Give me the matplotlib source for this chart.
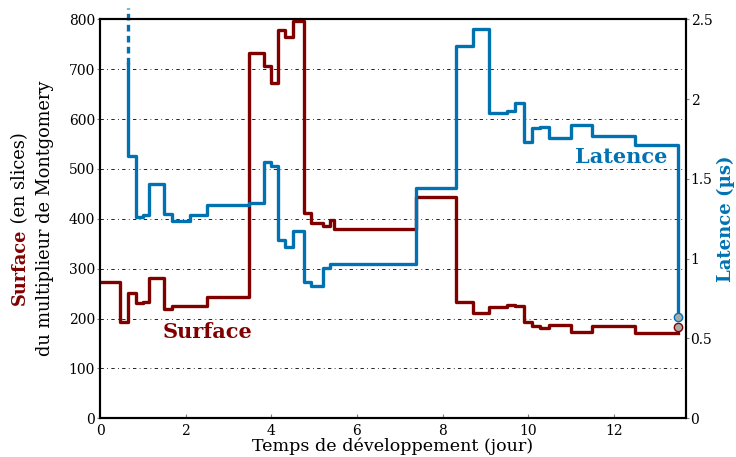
import matplotlib
matplotlib.use('Agg')
import matplotlib.pyplot as plt
from matplotlib.ticker import FuncFormatter

plt.rcParams['font.family'] = 'DejaVu Serif'

RED = '#800000'
BLUE = '#0072b2'

# surface (slices) du multiplieur, par jour de developpement
jours_surface = [0, 0.47, 0.66, 0.83, 1.0, 1.15, 1.5, 1.69, 2.49, 3.49, 3.82, 4.0,
                 4.16, 4.33, 4.5, 4.77, 4.92, 5.2, 5.36, 5.47, 7.39, 8.32, 8.7,
                 9.09, 9.5, 9.7, 9.9, 10.1, 10.28, 10.49, 11.0, 11.5, 12.5, 13.49]
surface = [274, 193, 252, 232, 234, 281, 219, 226, 243, 732, 707, 673,
           779, 765, 797, 411, 391, 386, 397, 379, 443, 234, 211,
           223, 228, 226, 193, 186, 182, 188, 174, 186, 172, 172]

# latence (us)
jours_latence = [0.66, 0.66, 0.83, 1.0, 1.15, 1.5, 1.69, 2.09, 2.49, 3.49, 3.82, 4.0,
                 4.16, 4.33, 4.5, 4.77, 4.92, 5.2, 5.36, 7.39, 8.32, 8.7, 9.09,
                 9.5, 9.7, 9.9, 10.1, 10.28, 10.49, 11.0, 11.5, 12.5, 13.49]
latence = [2.22, 1.645, 1.263, 1.272, 1.466, 1.28, 1.238, 1.274, 1.335, 1.347, 1.608, 1.583,
           1.12, 1.071, 1.175, 0.852, 0.827, 0.944, 0.965, 1.441, 2.335, 2.437, 1.911,
           1.927, 1.974, 1.729, 1.817, 1.823, 1.754, 1.838, 1.769, 1.712, 0.633]
latence_hors_cadre = [2.22, 2.57]

fin_jour = 13.49
fin_surface = 184
fin_latence = 0.633

fig = plt.figure(figsize=(7.36, 4.57), dpi=100)
ax = fig.add_axes([0.1359, 0.0847, 0.7958, 0.8731])
ax2 = ax.twinx()

ax.grid(axis='y', color='k', lw=0.6, dashes=(4, 4, 1, 4))
ax.set_axisbelow(True)

ax.plot(jours_surface, surface, drawstyle='steps-post', color=RED, lw=2.4)
ax.plot([fin_jour], [fin_surface], 'o', mfc='#aaaaaa', mec=RED, ms=6, mew=1)

ax2.plot(jours_latence, latence, drawstyle='steps-post', color=BLUE, lw=2.4)
ax2.plot([jours_latence[0]] * 2, latence_hors_cadre, color=BLUE, lw=2.4,
         dashes=(2, 1.3), clip_on=False)
ax2.plot([fin_jour], [fin_latence], 'o', mfc='#aaaaaa', mec=BLUE, ms=6, mew=1)

ax.set_xlim(0, 13.68)
ax.set_ylim(0, 800)
ax2.set_ylim(0, 2.5)
ax.set_xticks(range(0, 13, 2))
ax.set_yticks(range(0, 801, 100))
ax2.set_yticks([0, 0.5, 1, 1.5, 2, 2.5])
ax2.yaxis.set_major_formatter(FuncFormatter(lambda v, p: '%g' % v))

for a in (ax, ax2):
    for s in a.spines.values():
        s.set_linewidth(1.5)
ax.tick_params(axis='x', direction='in', length=3, color='gray', labelsize=10, pad=4)
ax.tick_params(axis='y', direction='out', length=2, color='gray', labelsize=10, pad=1.5)
ax2.tick_params(axis='y', direction='out', length=2, color='gray', labelsize=10, pad=1.5)

ax.set_xlabel('Temps de développement (jour)', fontsize=12.6, labelpad=0)

ax.text(2.52, 173, 'Surface', color=RED, fontsize=15, fontweight='bold',
        ha='center', va='center')
ax2.text(12.17, 1.637, 'Latence', color=BLUE, fontsize=15, fontweight='bold',
         ha='center', va='center')

# y labels (texte multicolore, construit morceau par morceau)
fig.canvas.draw()
r = fig.canvas.get_renderer()
cy = 1 - 218.5 / 457
t1 = fig.text(20 / 736, 0, 'Surface', color=RED, fontsize=12.8, fontweight='bold',
              rotation=90, ha='center', va='bottom')
t2 = fig.text(20 / 736, 0, ' (en slices)', color='k', fontsize=12.8,
              rotation=90, ha='center', va='bottom')
h1 = t1.get_window_extent(r).height / fig.bbox.height
h2 = t2.get_window_extent(r).height / fig.bbox.height
y0 = cy - (h1 + h2) / 2
t1.set_y(y0)
t2.set_y(y0 + h1)
fig.text(45 / 736, cy, 'du multiplieur de Montgomery', fontsize=12.8,
         rotation=90, ha='center', va='center')
fig.text(726 / 736, cy, 'Latence (µs)', color=BLUE, fontsize=13, fontweight='bold',
         rotation=90, ha='center', va='center')

fig.savefig('out.png', dpi=100)
